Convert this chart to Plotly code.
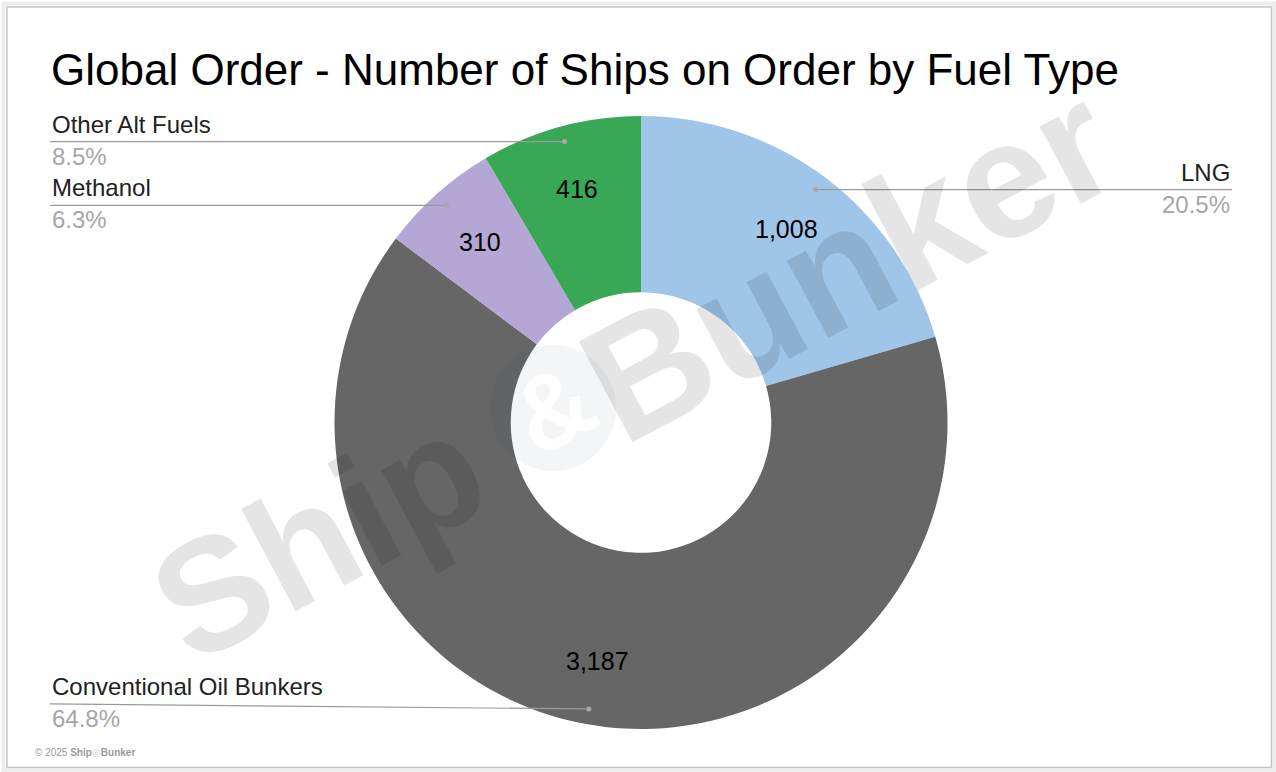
import math
import plotly.graph_objects as go

# ---- data ----
categories = ["LNG", "Conventional Oil Bunkers", "Methanol", "Other Alt Fuels"]
values = [1008, 3187, 310, 416]
colors = ["#9fc5e8", "#666666", "#b4a7d6", "#38a856"]
title_text = "Global Order - Number of Ships on Order by Fuel Type"

W, H = 1276, 772
FONT = "Liberation Sans, Arial, sans-serif"

# pie geometry (pixels)
cx, cy, R = 641, 422.5, 306.5
hole = 0.425


def px(x):
    return x / W


def py(y):
    return 1 - y / H


fig = go.Figure()
fig.add_trace(go.Pie(
    labels=categories,
    values=values,
    marker=dict(colors=colors, line=dict(width=0)),
    hole=hole,
    sort=False,
    direction="clockwise",
    rotation=0,
    textinfo="none",
    showlegend=False,
    hoverinfo="label+value+percent",
    domain=dict(x=[px(cx - R), px(cx + R)], y=[py(cy + R), py(cy - R)]),
))

shapes = []
annotations = []

total = sum(values)
cum = 0
label_side = {"LNG": "right", "Conventional Oil Bunkers": "left",
              "Methanol": "left", "Other Alt Fuels": "left"}
for cat, v in zip(categories, values):
    mid = (cum + v / 2) / total * 2 * math.pi
    cum += v
    # value label inside the ring
    rv = 0.79 * R
    vx = cx + rv * math.sin(mid)
    vy = cy - rv * math.cos(mid)
    annotations.append(dict(text=f"{v:,}", x=px(vx), y=py(vy), xref="paper", yref="paper",
                            xanchor="center", yanchor="middle", showarrow=False,
                            font=dict(family=FONT, size=25, color="#000000")))
    # leader line + outside label
    rr = 0.95 * R
    dx = cx + rr * math.sin(mid)
    dy = cy - rr * math.cos(mid)
    pct = f"{v / total * 100:.1f}%"
    side = label_side[cat]
    lx = 1232 if side == "right" else 50
    ly = dy - (5 if cat == "Conventional Oil Bunkers" else 0)
    shapes.append(dict(type="line", xref="paper", yref="paper",
                       x0=px(lx), y0=py(ly), x1=px(dx), y1=py(dy),
                       line=dict(color="#9a9a9a", width=1.2)))
    shapes.append(dict(type="circle", xref="paper", yref="paper",
                       x0=px(dx - 2.5), x1=px(dx + 2.5), y0=py(dy + 2.5), y1=py(dy - 2.5),
                       fillcolor="#a8a8a8", line=dict(width=0)))
    anchor = "right" if side == "right" else "left"
    annotations.append(dict(text=cat, x=px(lx), y=py(ly - 2), xref="paper", yref="paper",
                            xanchor=anchor, yanchor="bottom", showarrow=False,
                            font=dict(family=FONT, size=24, color="#222222")))
    annotations.append(dict(text=pct, x=px(lx), y=py(ly - 1), xref="paper", yref="paper",
                            xanchor=anchor, yanchor="top", showarrow=False,
                            font=dict(family=FONT, size=24, color="#a6a6a6")))

# title
annotations.append(dict(text=title_text, x=px(49), y=py(70), xref="paper", yref="paper",
                        xanchor="left", yanchor="middle", showarrow=False,
                        font=dict(family=FONT, size=44, color="#000000")))

# watermark: "Ship" (circle with &) "Bunker"
wm_color = "rgba(0,0,0,0.10)"
wm_angle = -28
annotations.append(dict(text="<b>Ship</b>", x=px(318), y=py(536), xref="paper", yref="paper",
                        xanchor="center", yanchor="middle", showarrow=False, textangle=wm_angle,
                        font=dict(family=FONT, size=160, color=wm_color)))
annotations.append(dict(text="<b>Bunker</b>", x=px(848), y=py(262), xref="paper", yref="paper",
                        xanchor="center", yanchor="middle", showarrow=False, textangle=wm_angle,
                        font=dict(family=FONT, size=166, color=wm_color)))
ccx, ccy, cr = 553, 408, 63
shapes.append(dict(type="circle", xref="paper", yref="paper",
                   x0=px(ccx - cr), x1=px(ccx + cr), y0=py(ccy + cr), y1=py(ccy - cr),
                   fillcolor="rgba(40,60,90,0.05)", line=dict(width=0), layer="above"))
annotations.append(dict(text="<b>&amp;</b>", x=px(ccx), y=py(ccy), xref="paper", yref="paper",
                        xanchor="center", yanchor="middle", showarrow=False, textangle=wm_angle,
                        font=dict(family=FONT, size=105, color="rgba(255,255,255,0.9)")))

# copyright
annotations.append(dict(text="© 2025 <b>Ship</b><span style='color:#cccccc'>◎</span><b>Bunker</b>",
                        x=px(33), y=py(752), xref="paper", yref="paper",
                        xanchor="left", yanchor="middle", showarrow=False,
                        font=dict(family=FONT, size=10, color="#9a9a9a")))

# frame with soft shadow
shapes.append(dict(type="rect", xref="paper", yref="paper",
                   x0=px(3.5), x1=px(1274.5), y0=py(770.5), y1=py(3.5),
                   line=dict(color="#eeeeee", width=4)))
shapes.append(dict(type="rect", xref="paper", yref="paper",
                   x0=px(7), x1=px(1271.5), y0=py(767.5), y1=py(7),
                   line=dict(color="#c6c6c6", width=1.5)))

fig.update_layout(
    width=W, height=H,
    margin=dict(l=0, r=0, t=0, b=0),
    paper_bgcolor="#ffffff",
    plot_bgcolor="#ffffff",
    shapes=shapes,
    annotations=annotations,
    showlegend=False,
)

fig.write_html("out.html", config={"displayModeBar": False},
               post_script="document.body.style.margin='0px';document.body.style.overflow='hidden';")
